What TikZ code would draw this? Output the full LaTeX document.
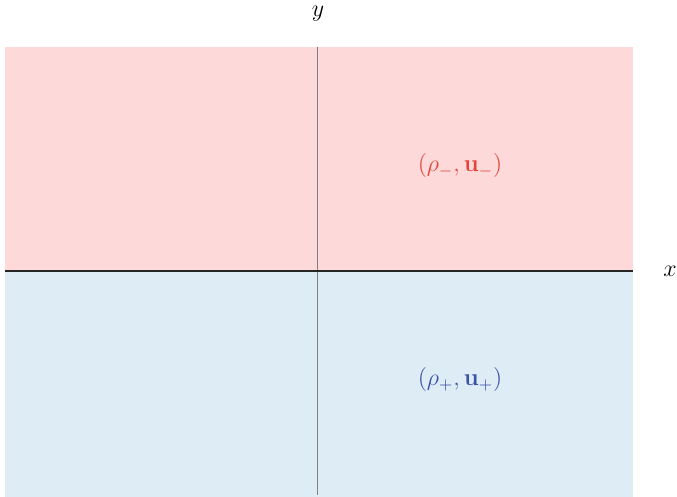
\documentclass[tikz,border=0pt]{standalone}
\usepackage{amsmath}
\usetikzlibrary{positioning,calc}
\definecolor{upperfill}{RGB}{253,217,217}
\definecolor{lowerfill}{RGB}{222,236,246}
\definecolor{uppertext}{RGB}{228,68,58}
\definecolor{lowertext}{RGB}{58,82,168}

\begin{document}
\begin{tikzpicture}[
    x=0.5pt, y=-0.5pt,
    axis/.style={line width=0.9pt, black!85},
    midline/.style={line width=0.5pt, black!50},
    state/.style={font=\fontsize{11.5}{13}\selectfont}
]
\useasboundingbox (0,0) rectangle (677,497);

% Regions
\fill[upperfill] (5,47) rectangle (633,271);
\fill[lowerfill] (5,271) rectangle (633,497);

% Axes
\coordinate (xl) at (5,271);
\coordinate (xr) at (633,271);
\coordinate (yt) at (318,47);
\coordinate (yb) at (318,495);
\draw[midline] (yt) -- (yb);
\draw[axis] (xl) -- (xr);

\node[state] (xlab) at (670,271) {$x$};
\node[state] (ylab) at (318,14) {$y$};

% States
\node[state, text=uppertext] (upper) at (460,166) {$(\rho_-,\mathbf{u}_-)$};
\node[state, text=lowertext] (lower) at (460,380) {$(\rho_+,\mathbf{u}_+)$};

\end{tikzpicture}
\end{document}
